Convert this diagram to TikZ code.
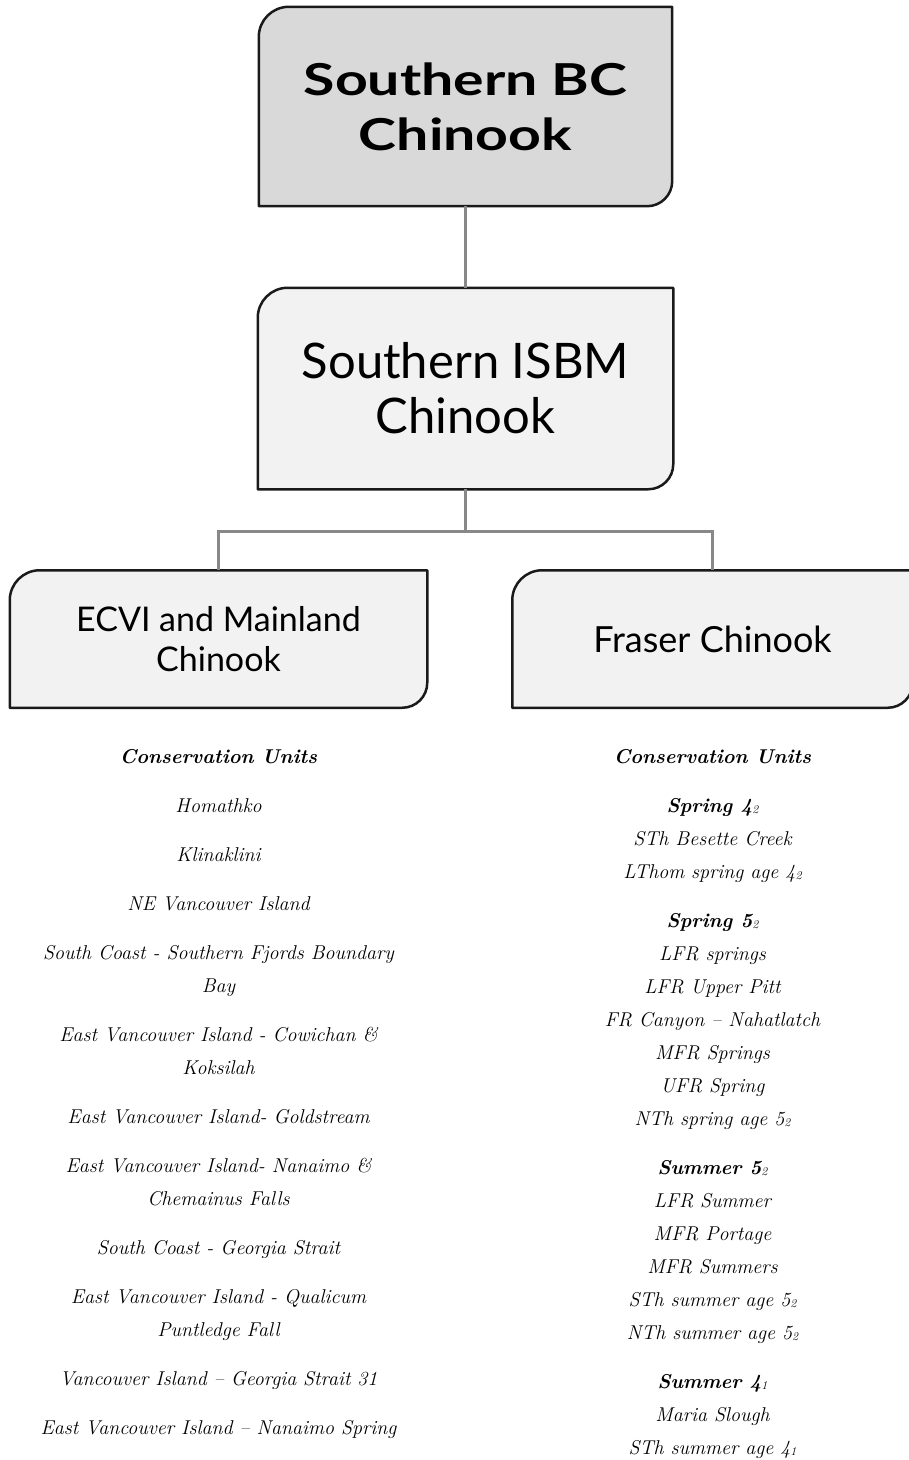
\documentclass[tikz,border=0pt]{standalone}
\usepackage{fontspec}
\newfontfamily\headfont{Lato}
\usepackage{tikz}
\usetikzlibrary{positioning,backgrounds}
\definecolor{topfill}{HTML}{D9D9D9}
\definecolor{boxfill}{HTML}{F2F2F2}
\definecolor{linkgray}{HTML}{888888}
\definecolor{boxedge}{HTML}{1A1A1A}
\newcommand{\cusub}[1]{\raisebox{-1.5pt}{\fontsize{12}{12}\selectfont\mdseries #1}}
\tikzset{
  chartnode/.style = {align=center, inner sep=0pt, text centered},
  topnode/.style = {chartnode, minimum width=413pt, minimum height=199pt,
    font=\headfont\bfseries\fontsize{44}{55}\selectfont\addfontfeatures{FakeStretch=1.3}},
  midnode/.style = {chartnode, minimum width=413pt, minimum height=199pt, font=\headfont\fontsize{49}{55}\selectfont},
  leafnode/.style = {chartnode, minimum height=135pt, font=\headfont\fontsize{34}{40}\selectfont},
  cunits/.style = {align=center, inner sep=0pt, font=\itshape\fontsize{20}{33}\selectfont},
  boxline/.style = {draw=boxedge, line width=2.5pt, line join=round},
  link/.style = {draw=linkgray, line width=2.5pt},
  level 1/.style = {level distance=282pt},
  level 2/.style = {level distance=250.5pt, sibling distance=494pt,
    edge from parent path={(\tikzparentnode.south) -- ++(0,-42pt) -| (\tikzchildnode.north)}},
}

\begin{document}
\begin{tikzpicture}[x=1pt, y=1pt]
\useasboundingbox (0,0) rectangle (909,-1460);
\node [topnode] (bc) at (465.5,-106.5) {Southern BC\\Chinook}
  child[link]{ node [midnode] (isbm) {Southern ISBM\\Chinook}
    child[link]{ node [leafnode, minimum width=415pt] (ecvi) {ECVI and Mainland\\Chinook} }
    child[link]{ node [leafnode, minimum width=398pt, font=\headfont\fontsize{36}{40}\selectfont] (fraser) {Fraser Chinook} }
  }
;
\begin{pgfonlayer}{background}
\foreach \n/\c in {bc/topfill, isbm/boxfill, ecvi/boxfill, fraser/boxfill}
  \draw [boxline, fill=\c] (\n.south west) -- ([yshift=-30pt]\n.north west)
    arc[start angle=180, end angle=90, radius=30pt] -- (\n.north east)
    -- ([yshift=25pt]\n.south east) arc[start angle=0, end angle=-90, radius=25pt] -- cycle;
\end{pgfonlayer}
\node [cunits, below=41pt of ecvi] (ecvi-cu) {%
  {\bfseries Conservation Units}\\[16pt]
  Homathko\\[16pt]
  Klinaklini\\[16pt]
  NE Vancouver Island\\[16pt]
  South Coast - Southern Fjords Boundary\\
  Bay\\[16pt]
  East Vancouver Island - Cowichan \&\\
  Koksilah\\[16pt]
  East Vancouver Island- Goldstream\\[16pt]
  East Vancouver Island- Nanaimo \&\\
  Chemainus Falls\\[16pt]
  South Coast - Georgia Strait\\[16pt]
  East Vancouver Island - Qualicum\\
  Puntledge Fall\\[16pt]
  Vancouver Island -- Georgia Strait 31\\[16pt]
  East Vancouver Island -- Nanaimo Spring};
\node [cunits, below=41pt of fraser] (fraser-cu) {%
  {\bfseries Conservation Units}\\[16pt]
  {\bfseries Spring 4\cusub{2}}\\
  STh Besette Creek\\
  LThom spring age 4\cusub{2}\\[16pt]
  {\bfseries Spring 5\cusub{2}}\\
  LFR springs\\
  LFR Upper Pitt\\
  FR Canyon -- Nahatlatch\\
  MFR Springs\\
  UFR Spring\\
  NTh spring age 5\cusub{2}\\[16pt]
  {\bfseries Summer 5\cusub{2}}\\
  LFR Summer\\
  MFR Portage\\
  MFR Summers\\
  STh summer age 5\cusub{2}\\
  NTh summer age 5\cusub{2}\\[16pt]
  {\bfseries Summer 4\cusub{1}}\\
  Maria Slough\\
  STh summer age 4\cusub{1}};
\end{tikzpicture}
\end{document}
